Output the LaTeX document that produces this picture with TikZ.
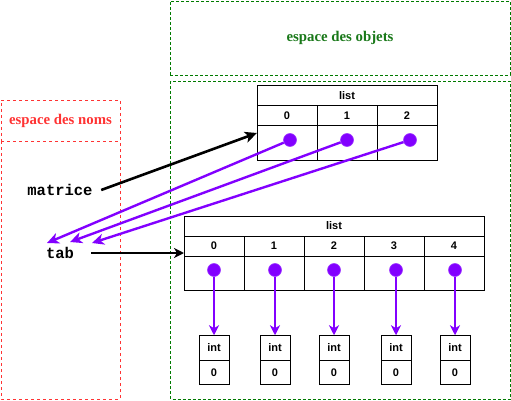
\documentclass[tikz,border=0pt]{standalone}
\usepackage{fontspec}
\setmainfont{Liberation Serif}
\setsansfont{Liberation Sans}
\setmonofont{Liberation Mono}
\usetikzlibrary{arrows.meta}
\definecolor{vio}{RGB}{130,0,255}
\definecolor{dgreen}{RGB}{0,122,0}
\definecolor{tgreen}{RGB}{25,120,25}
\definecolor{lred}{RGB}{255,51,51}
\begin{document}
\begin{tikzpicture}[x=1pt,y=-1pt,
  cell/.style={draw,line width=1pt,inner sep=0pt,font=\sffamily\bfseries\fontsize{11}{13}\selectfont,minimum width=60pt,minimum height=20pt},
  valcell/.style={cell,minimum height=34pt},
  intcell/.style={cell,minimum width=30pt,minimum height=24.5pt},
  dot/.style={circle,fill=vio,draw=vio!80!white,line width=0.6pt,inner sep=0pt,minimum size=13pt},
  gbox/.style={draw=dgreen,dash pattern=on 3pt off 2pt,line width=0.9pt},
  rbox/.style={draw=lred,dash pattern=on 3pt off 3pt,line width=0.8pt},
  varname/.style={font=\ttfamily\bfseries\fontsize{15.5}{17}\selectfont,inner sep=0pt},
  ref/.style={line width=2.6pt,-{Stealth[length=12pt,width=11pt,inset=3pt]}},
  pref/.style={draw=vio,line width=2.4pt,-{Stealth[length=12pt,width=11pt,inset=3.5pt]}},
  vref/.style={draw=vio,line width=1.8pt,-{Stealth[length=10pt,width=10pt,inset=3pt]}}
]
\useasboundingbox (0,0) rectangle (511,401);

% object space
\node[gbox,minimum width=340pt,minimum height=74pt,inner sep=0pt,
  font=\rmfamily\bfseries\fontsize{14.8}{16}\selectfont,text=tgreen] (objtitle) at (340,38) {espace des objets};
\draw[gbox] (170.5,81) rectangle (510,399);

% name space
\node[rbox,minimum width=119pt,minimum height=41pt,inner sep=0pt,
  font=\rmfamily\bfseries\fontsize{14.8}{16}\selectfont,text=lred] (nomtitle) at (60.5,120.5) {espace des noms};
\draw[rbox] (1,141) -- (1,399) -- (120,399) -- (120,141);

% top list
\node[cell,minimum width=180pt] (a-h) at (347,96) {list};
\foreach \i/\x in {0/287,1/347,2/407}{
  \node[cell] (a-i\i) at (\x,116) {\i};
  \node[valcell] (a-v\i) at (\x,143) {};
}
\node[dot] (a-d0) at (290,140) {};
\node[dot] (a-d1) at (347,140) {};
\node[dot] (a-d2) at (410,140) {};

% bottom list
\node[cell,minimum width=300pt] (b-h) at (334,226) {list};
\foreach \i/\x/\d in {0/214/214,1/274/275,2/334/334,3/394/396,4/454/455}{
  \node[cell] (b-i\i) at (\x,246) {\i};
  \node[valcell] (b-v\i) at (\x,273) {};
  \node[dot] (b-d\i) at (\d,270) {};
  \node[intcell] (n-t\i) at (\d,348) {int};
  \node[intcell] (n-v\i) at (\d,372.5) {0};
  \draw[vref] (b-d\i) -- (n-t\i);
}

% names
\node[varname,minimum width=82pt] (mat) at (60,190) {matrice};
\node[varname,minimum width=62pt] (tab) at (60,253) {tab};

\coordinate (mattip) at (257,133);
\coordinate (tabtip) at (184,253);
\coordinate (t0) at (47,243);
\coordinate (t1) at (70,242);
\coordinate (t2) at (92,243);

\draw[ref] (mat.east) -- (mattip);
\draw[line width=1.8pt,-{Stealth[length=10pt,width=10pt,inset=3pt]}] (tab.east) -- (tabtip);

\draw[pref] (a-d0) -- (t0);
\draw[pref] (a-d1) -- (t1);
\draw[pref] (a-d2) -- (t2);
\end{tikzpicture}
\end{document}
